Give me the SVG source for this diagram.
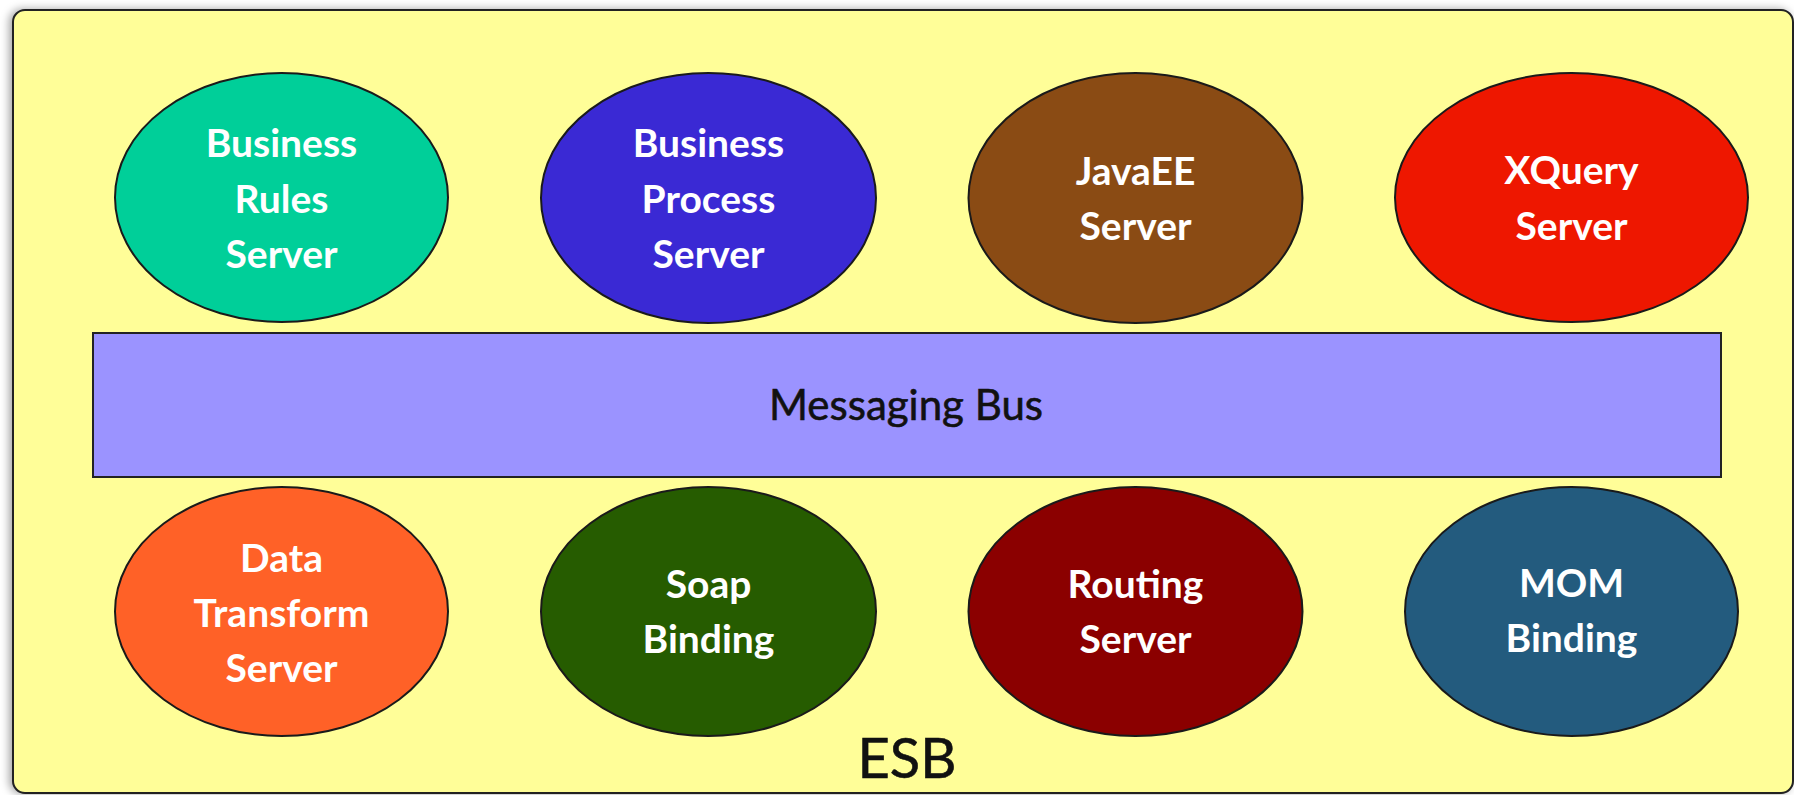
<svg xmlns="http://www.w3.org/2000/svg" width="1794" height="795" viewBox="0 0 1794 795">
<defs>
<filter id="sh" x="-5%" y="-5%" width="110%" height="110%">
<feDropShadow dx="-3" dy="0" stdDeviation="4" flood-color="#000" flood-opacity="0.35"/>
</filter>
<style>
.node ellipse{stroke:#1a1a1a;stroke-width:2}
.lbl{font-family:Lato,"Open Sans",sans-serif;font-weight:bold;font-size:39px;fill:#fff;text-anchor:middle}
.blk{font-family:Lato,"Open Sans",sans-serif;fill:#111;text-anchor:middle;stroke:#111;stroke-width:0.6}
</style>
</defs>
<rect width="1794" height="795" fill="#ffffff"/>
<g id="esb">
<rect x="13" y="10" width="1780" height="783" rx="12" fill="#FFFE98" stroke="#222" stroke-width="2" filter="url(#sh)"/>
<text class="blk" x="907" y="778" font-size="56">ESB</text>
</g>
<g id="messaging-bus">
<rect x="93" y="333" width="1628" height="144" fill="#9B93FF" stroke="#222" stroke-width="2"/>
<text class="blk" x="906" y="420" font-size="42">Messaging Bus</text>
</g>
<g id="business-rules" class="node">
<ellipse cx="281.5" cy="197.5" rx="166.5" ry="124.5" fill="#00CF99"/>
<text class="lbl" x="281.5" y="157">Business</text>
<text class="lbl" x="281.5" y="213">Rules</text>
<text class="lbl" x="281.5" y="268">Server</text>
</g>
<g id="business-process" class="node">
<ellipse cx="708.5" cy="198" rx="167.5" ry="125" fill="#3A29D4"/>
<text class="lbl" x="708.5" y="157">Business</text>
<text class="lbl" x="708.5" y="213">Process</text>
<text class="lbl" x="708.5" y="268">Server</text>
</g>
<g id="javaee" class="node">
<ellipse cx="1135.5" cy="198" rx="167" ry="125" fill="#8A4B14"/>
<text class="lbl" x="1135.5" y="185">JavaEE</text>
<text class="lbl" x="1135.5" y="240">Server</text>
</g>
<g id="xquery" class="node">
<ellipse cx="1571.5" cy="197.5" rx="176.5" ry="124.5" fill="#EE1700"/>
<text class="lbl" x="1571.5" y="184">XQuery</text>
<text class="lbl" x="1571.5" y="240">Server</text>
</g>
<g id="data-transform" class="node">
<ellipse cx="281.5" cy="611.5" rx="166.5" ry="124.5" fill="#FF6127"/>
<text class="lbl" x="281.5" y="572">Data</text>
<text class="lbl" x="281.5" y="627">Transform</text>
<text class="lbl" x="281.5" y="682">Server</text>
</g>
<g id="soap-binding" class="node">
<ellipse cx="708.5" cy="611.5" rx="167.5" ry="124.5" fill="#265C00"/>
<text class="lbl" x="708.5" y="598">Soap</text>
<text class="lbl" x="708.5" y="653">Binding</text>
</g>
<g id="routing" class="node">
<ellipse cx="1135.5" cy="611.5" rx="167" ry="124.5" fill="#8B0000"/>
<text class="lbl" x="1135.5" y="598">Routing</text>
<text class="lbl" x="1135.5" y="653">Server</text>
</g>
<g id="mom-binding" class="node">
<ellipse cx="1571.5" cy="611.5" rx="166.5" ry="124.5" fill="#235B7E"/>
<text class="lbl" x="1571.5" y="597">MOM</text>
<text class="lbl" x="1571.5" y="652">Binding</text>
</g>
<g id="connectors"></g>
</svg>
